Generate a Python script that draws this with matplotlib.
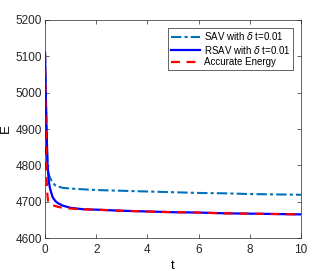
import matplotlib.pyplot as plt
import numpy as np

# energy curves
t_acc = [0, 0.02, 0.05, 0.08, 0.12, 0.2, 0.3, 0.5, 0.7, 1, 1.5, 2, 3, 4, 5, 6, 7, 8, 9, 10]
e_acc = [5110, 4950, 4800, 4730, 4700, 4693, 4690, 4686, 4683, 4681, 4679, 4678, 4675, 4673, 4671, 4670, 4668, 4667, 4666, 4665]

t_rsav = [0, 0.03, 0.06, 0.1, 0.15, 0.2, 0.3, 0.4, 0.5, 0.7, 1, 1.5, 2, 3, 4, 5, 6, 7, 8, 9, 10]
e_rsav = [5110, 5000, 4900, 4800, 4755, 4735, 4712, 4702, 4696, 4689, 4683, 4679, 4678, 4675, 4673, 4671, 4670, 4668, 4667, 4666, 4665]

t_sav = [0, 0.03, 0.06, 0.1, 0.15, 0.2, 0.3, 0.4, 0.5, 0.7, 1, 1.5, 2, 3, 4, 5, 6, 7, 8, 9, 10]
e_sav = [5110, 5000, 4900, 4790, 4775, 4765, 4752, 4745, 4742, 4738, 4736, 4734, 4732, 4730, 4728, 4726, 4724, 4723, 4721, 4720, 4719]

plt.rcParams['font.family'] = 'Liberation Sans'
plt.rcParams['font.size'] = 8.5

fig = plt.figure(figsize=(3.32, 2.71), dpi=100)
ax = fig.add_axes([45 / 332, 1 - 238 / 271, 256 / 332, 218 / 271])

ax.plot(t_sav, e_sav, color='#0072BD', linestyle=(0, (5, 1.5, 1.5, 1.5)), linewidth=1.5,
        label=r'SAV with $\delta$ t=0.01')
ax.plot(t_rsav, e_rsav, color='blue', linewidth=1.6, label=r'RSAV with $\delta$ t=0.01')
ax.plot(t_acc, e_acc, color='red', linestyle=(0, (4, 3)), linewidth=1.6, label='Accurate Energy')

ax.set_xlim(0, 10)
ax.set_ylim(4600, 5200)
ax.set_xticks([0, 2, 4, 6, 8, 10])
ax.set_yticks(np.arange(4600, 5201, 100))
ax.set_xlabel('t', labelpad=3, fontsize=9.5)
ax.set_ylabel('E', labelpad=3, fontsize=9.5)
ax.tick_params(direction='in', length=3, width=0.5, top=True, right=True, labelsize=8.5,
               colors='#262626')
ax.tick_params(axis='y', pad=2)
ax.tick_params(axis='x', pad=4)
for s in ax.spines.values():
    s.set_linewidth(0.5)
    s.set_color('#262626')

leg = ax.legend(loc='upper right', bbox_to_anchor=(293 / 332, 1 - 28 / 271),
                bbox_transform=fig.transFigure, borderaxespad=0,
                fontsize=7, handlelength=3.0, borderpad=0.25,
                labelspacing=0.15, handletextpad=0.4, fancybox=False, framealpha=1)
leg.get_frame().set_linewidth(0.5)
leg.get_frame().set_edgecolor('#262626')

fig.savefig('out.png', dpi=100)
